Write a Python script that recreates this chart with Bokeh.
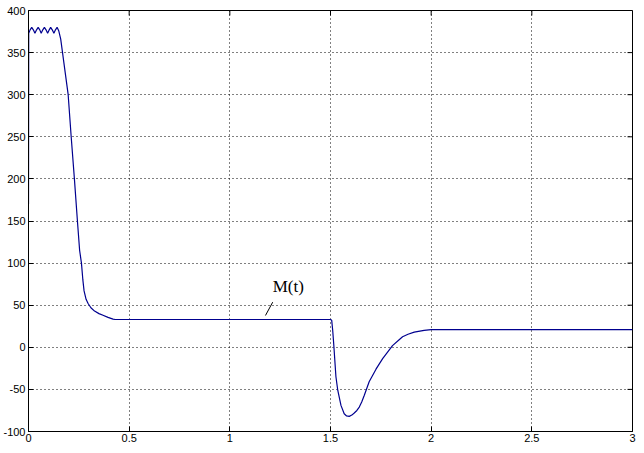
from bokeh.plotting import figure
from bokeh.models import Range1d, FixedTicker, Label
from bokeh.embed import file_html
from bokeh.resources import INLINE

# ---- data ----
t_vals = [0.0, 0.001, 0.008, 0.016, 0.024, 0.032, 0.040, 0.048, 0.056, 0.063, 0.071,
          0.079, 0.087, 0.095, 0.103, 0.110, 0.118, 0.126, 0.134, 0.142, 0.150,
          0.160, 0.169, 0.183, 0.197, 0.212, 0.228, 0.243, 0.254, 0.263, 0.270,
          0.276, 0.286, 0.296, 0.310, 0.328, 0.350, 0.370, 0.395, 0.420, 0.430,
          1.500, 1.506, 1.511, 1.516, 1.527, 1.536, 1.552, 1.568, 1.580, 1.593,
          1.606, 1.618, 1.631, 1.643, 1.655, 1.668, 1.692, 1.726, 1.759, 1.792, 1.808, 1.841,
          1.858, 1.885, 1.916, 1.965, 2.000, 3.000]
m_vals = [170, 373, 377, 380, 377, 373, 377, 380, 377, 373, 377,
          380, 377, 373, 377, 380, 377, 373, 377, 380, 376,
          366, 350, 325, 300, 250, 200, 150, 115, 100, 80,
          67, 57, 52, 47, 43, 40, 38, 35.5, 33.5, 33,
          33, 32, 20, 4, -35, -51, -69, -79, -81.5, -82,
          -80.5, -78, -75, -71, -65, -57, -41, -26, -13.5, -3, 2, 9,
          12.5, 15.5, 18, 20.2, 21, 21]

x_ticks = [0, 0.5, 1, 1.5, 2, 2.5, 3]
x_tick_labels = ["0", "0.5", "1", "1.5", "2", "2.5", "3"]
y_ticks = [-100, -50, 0, 50, 100, 150, 200, 250, 300, 350, 400]
y_tick_labels = ["-100", "-50", "0", "50", "100", "150", "200", "250", "300", "350", "400"]

label_text = "M(t)"
label_pos = (1.29, 72)
leader_t = [1.177, 1.213]
leader_m = [37.8, 53.6]

X0, X1 = 0, 3
Y0, Y1 = -100, 400
FRAME_W_PX, FRAME_H_PX = 605, 421   # approximate frame size, for tick lengths
TICK_PX = 5

p = figure(width=636, height=444, x_range=Range1d(X0, X1), y_range=Range1d(Y0, Y1),
           output_backend="svg", toolbar_location=None,
           min_border_left=2, min_border_right=4, min_border_top=10, min_border_bottom=0)
p.background_fill_color = "white"
p.border_fill_color = "white"
p.outline_line_color = "black"
p.outline_line_width = 1

xt = FixedTicker(ticks=x_ticks)
yt = FixedTicker(ticks=y_ticks)

for ax, tk, ticks, labels, so in ((p.xaxis[0], xt, x_ticks, x_tick_labels, 2),
                                  (p.yaxis[0], yt, y_ticks, y_tick_labels, 3)):
    ax.ticker = tk
    ax.major_label_overrides = {v: s for v, s in zip(ticks, labels)}
    ax.minor_tick_line_color = None
    ax.axis_line_color = "black"
    ax.major_tick_line_color = "black"
    ax.major_tick_in = TICK_PX
    ax.major_tick_out = 0
    ax.major_label_text_font = "Liberation Sans"
    ax.major_label_text_font_size = "11px"
    ax.major_label_text_color = "black"
    ax.major_label_standoff = so

for g, tk in ((p.xgrid[0], xt), (p.ygrid[0], yt)):
    g.ticker = tk
    g.grid_line_color = "black"
    g.grid_line_dash = "1 3"
    g.grid_line_width = 1
    g.grid_line_alpha = 1.0

# inward ticks on top and right edges of the box
dy = TICK_PX * (Y1 - Y0) / FRAME_H_PX
dx = TICK_PX * (X1 - X0) / FRAME_W_PX
p.segment(x0=x_ticks, y0=[Y1] * len(x_ticks), x1=x_ticks, y1=[Y1 - dy] * len(x_ticks),
          line_color="black", line_width=1)
p.segment(x0=[X1] * len(y_ticks), y0=y_ticks, x1=[X1 - dx] * len(y_ticks), y1=y_ticks,
          line_color="black", line_width=1)

p.line(t_vals, m_vals, line_color="#00008f", line_width=1.2)

p.line(leader_t, leader_m, line_color="black", line_width=1)
p.add_layout(Label(x=label_pos[0], y=label_pos[1], text=label_text,
                   text_font="Liberation Serif", text_font_size="17px",
                   text_color="black", text_align="center", text_baseline="middle"))

open("out.html", "w").write(file_html(p, INLINE))
